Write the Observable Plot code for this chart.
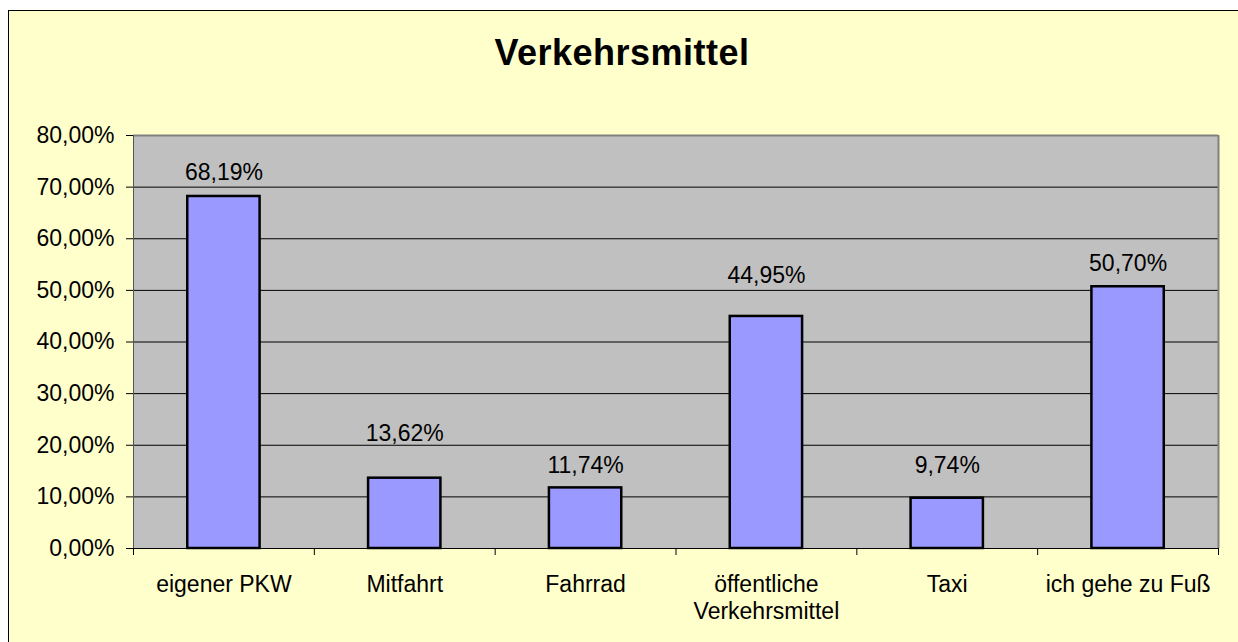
<!DOCTYPE html>
<html><head><meta charset="utf-8">
<script src="https://cdn.jsdelivr.net/npm/d3@7"></script>
<script src="https://cdn.jsdelivr.net/npm/@observablehq/plot@0.6"></script>
<style>
html,body{margin:0;padding:0;overflow:hidden;}
body{background:#fff;width:1238px;height:642px;position:relative;font-family:"Liberation Sans",Arial,sans-serif;}
#frame{position:absolute;left:8px;top:10px;width:1229px;height:632px;border-left:1px solid #000;border-top:1px solid #000;background:#FFFFCC;}
#title{position:absolute;left:8px;width:1228px;top:35px;text-align:center;font-weight:bold;font-size:36px;line-height:36px;letter-spacing:0.5px;color:#000;}
#chart{position:absolute;left:0;top:0;width:1238px;height:642px;overflow:hidden;}
#chart svg{display:block;}
#edge{position:absolute;left:1222px;top:11px;width:16px;height:631px;background:#FFFFCC;z-index:100;}
</style></head><body>
<div id="frame"></div>
<div id="title">Verkehrsmittel</div>
<div id="chart"></div>
<div id="edge"></div>
<script>
const categories = ["eigener PKW", "Mitfahrt", "Fahrrad", "öffentliche\nVerkehrsmittel", "Taxi", "ich gehe zu Fuß"];
const values = [68.19, 13.62, 11.74, 44.95, 9.74, 50.70];
// value (in %) at which each data label's baseline sits
const labelAt = [71.3, 20.8, 14.6, 51.4, 14.6, 53.8];
const yTicks = [0, 10, 20, 30, 40, 50, 60, 70, 80];

const fmt = v => v.toFixed(2).replace(".", ",") + "%";
const data = categories.map((c, i) => ({c, i, v: values[i], ly: labelAt[i]}));
const bounds = d3.range(categories.length + 1);
const n = categories.length;

const chart = Plot.plot({
  width: 1238, height: 642,
  marginLeft: 133, marginRight: 20, marginTop: 135, marginBottom: 94,
  style: {background: "transparent", fontFamily: "'Liberation Sans', Arial, sans-serif", fontSize: "23px", color: "#000"},
  x: {domain: [0, n]},
  y: {domain: [0, 80]},
  marks: [
    Plot.frame({fill: "#C0C0C0", stroke: null}),
    Plot.ruleY(yTicks.slice(1, -1), {stroke: "#000", strokeWidth: 1}),
    Plot.rectY(data, {x1: d => d.i + 0.3, x2: d => d.i + 0.7, y1: 0, y2: "v", fill: "#9999FF", stroke: "#000", strokeWidth: 2.5}),
    Plot.ruleY([80], {stroke: "#808080", strokeWidth: 2}),
    Plot.ruleX([n], {stroke: "#808080", strokeWidth: 2}),
    Plot.ruleX([0], {stroke: "#555", strokeWidth: 1}),
    Plot.ruleY([0], {stroke: "#000", strokeWidth: 1}),
    Plot.axisY({ticks: yTicks, tickFormat: fmt, tickSize: 7, tickPadding: 12, label: null, fontSize: 23}),
    Plot.axisX({ticks: bounds, tickFormat: () => "", tickSize: 7, label: null}),
    Plot.text(data, {x: d => d.i + 0.5, y: 0, text: "c", lineAnchor: "top", dy: 24, lineHeight: 1.17, fontSize: 23, fill: "#000"}),
    Plot.text(data, {x: d => d.i + 0.5, y: "ly", text: d => fmt(d.v), lineAnchor: "bottom", fontSize: 23, fill: "#000"})
  ]
});
document.getElementById("chart").appendChild(chart);
</script>
</body></html>
